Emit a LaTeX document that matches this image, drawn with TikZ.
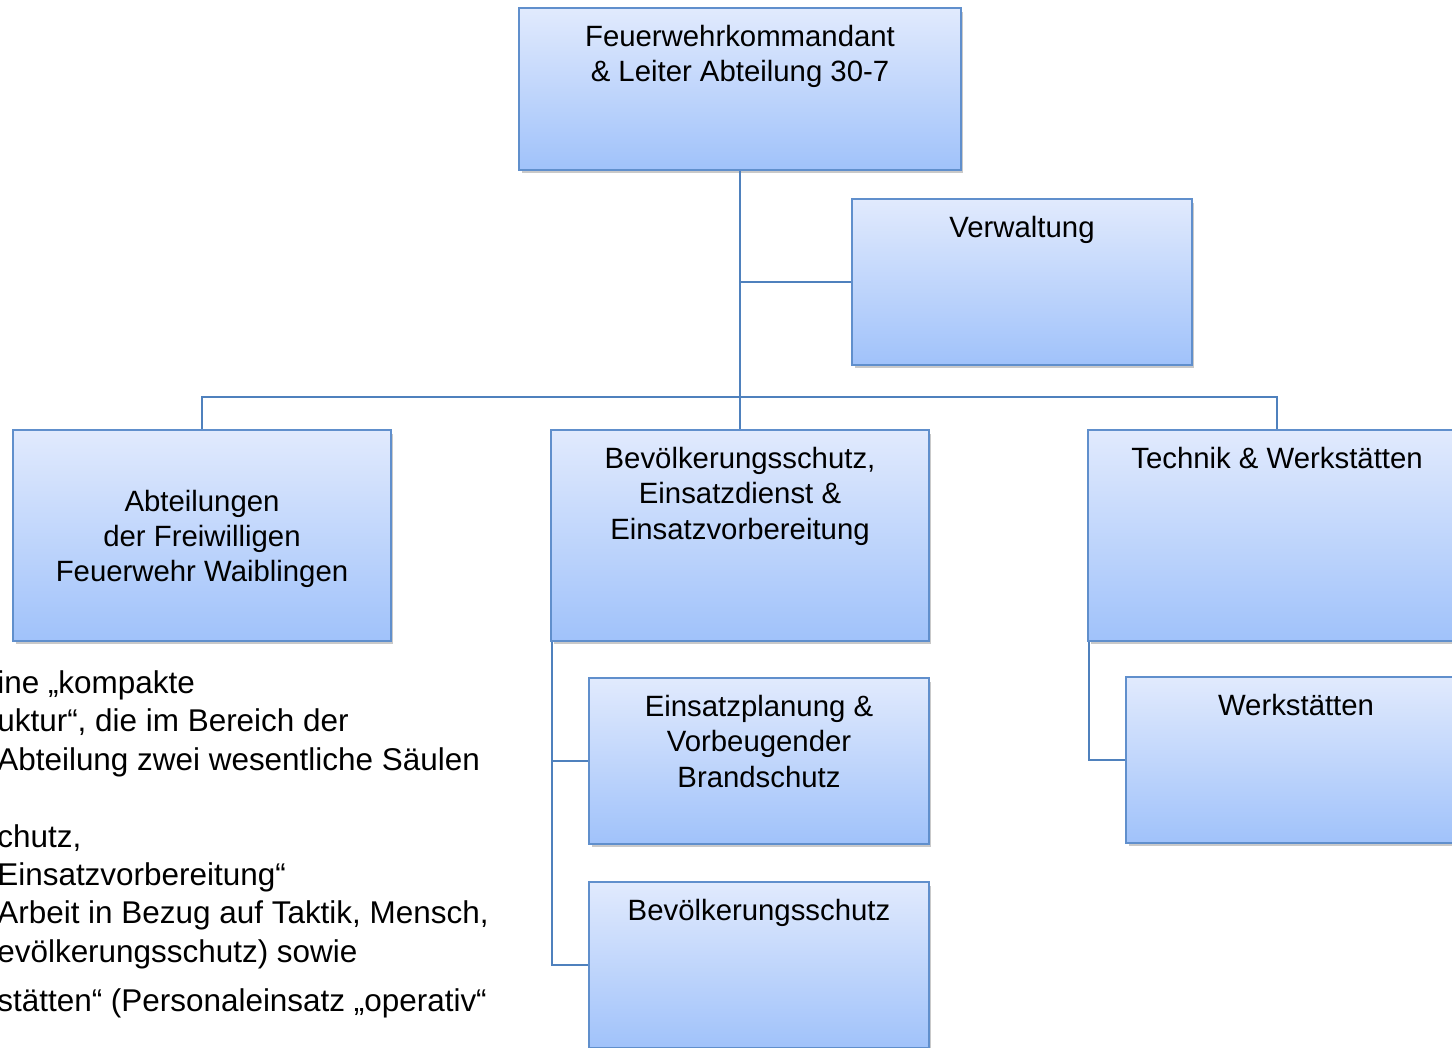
\documentclass[tikz,border=0pt]{standalone}
\usepackage{fontspec}
\setmainfont{Liberation Sans}
\usetikzlibrary{positioning}
\usetikzlibrary{shadows}

\definecolor{boxtop}{RGB}{225,234,253}
\definecolor{boxbottom}{RGB}{160,194,250}
\definecolor{boxline}{RGB}{96,143,204}
\definecolor{conline}{RGB}{79,129,189}

\newcommand{\boxfont}{\fontsize{16.7}{20.1}\selectfont}
\newcommand{\sidefont}{\fontsize{17.9}{21}\selectfont}

\tikzset{
    orgbox/.style={rectangle, draw=boxline, line width=1pt, top color=boxtop, bottom color=boxbottom,
        drop shadow={shadow xshift=0.05cm, shadow yshift=-0.07cm, opacity=0.3, fill=black!70}},
    orgtext/.style={font=\boxfont, align=center},
    orgline/.style={draw=conline, line width=1.1pt},
}

\begin{document}
\begin{tikzpicture}[x=0.02cm, y=-0.02cm]
    \useasboundingbox (0,0) rectangle (1452,1047);
    \clip (0,0) rectangle (1452,1047);

    \coordinate (bus) at (740,397);
    \coordinate (stab) at (740,282);

    \node[orgbox, minimum width=8.84cm, minimum height=3.24cm] (kommandant) at (740,89) {};
    \node[orgbox, minimum width=6.8cm, minimum height=3.32cm] (verwaltung) at (1022,282) {};
    \node[orgbox, minimum width=7.56cm, minimum height=4.22cm] (abteilungen) at (202,535.5) {};
    \node[orgbox, minimum width=7.56cm, minimum height=4.22cm] (bevoelkerung) at (740,535.5) {};
    \node[orgbox, minimum width=7.56cm, minimum height=4.22cm] (technik) at (1277,535.5) {};
    \node[orgbox, minimum width=6.8cm, minimum height=3.32cm] (einsatzplanung) at (759,761) {};
    \node[orgbox, minimum width=6.8cm, minimum height=3.32cm] (schutz) at (759,965) {};
    \node[orgbox, minimum width=6.8cm, minimum height=3.32cm] (werkstaetten) at (1296,760) {};

    % connectors
    \draw[orgline] (kommandant.south) -- (bevoelkerung.north);
    \draw[orgline] (stab) -- (verwaltung.west);
    \draw[orgline] (abteilungen.north) |- (bus) -| (technik.north);
    \draw[orgline] ([xshift=0.04cm]bevoelkerung.south west) |- (einsatzplanung.west);
    \draw[orgline] ([xshift=0.04cm]bevoelkerung.south west) |- (schutz.west);
    \draw[orgline] ([xshift=0.04cm]technik.south west) |- (werkstaetten.west);

    % box texts
    \node[orgtext, below=0.24cm of kommandant.north] (kommandant-t) {Feuerwehrkommandant\\\& Leiter Abteilung 30-7};
    \node[orgtext, below=0.24cm of verwaltung.north] (verwaltung-t) {Verwaltung};
    \node[orgtext] (abteilungen-t) at ([yshift=-0.07cm]abteilungen.center) {Abteilungen\\der Freiwilligen\\Feuerwehr Waiblingen};
    \node[orgtext, below=0.24cm of bevoelkerung.north] (bevoelkerung-t) {Bevölkerungsschutz,\\Einsatzdienst \&\\Einsatzvorbereitung};
    \node[orgtext, below=0.24cm of technik.north] (technik-t) {Technik \& Werkstätten};
    \node[orgtext, below=0.24cm of einsatzplanung.north] (einsatzplanung-t) {Einsatzplanung \&\\Vorbeugender\\Brandschutz};
    \node[orgtext, below=0.24cm of schutz.north] (schutz-t) {Bevölkerungsschutz};
    \node[orgtext, below=0.24cm of werkstaetten.north] (werkstaetten-t) {Werkstätten};

    % text left of the chart
    \foreach \y/\zeile [count=\i] in {693/{ine „kompakte},
            731/{uktur“, die im Bereich der},
            770/{Abteilung zwei wesentliche Säulen},
            847/{chutz,},
            885/{Einsatzvorbereitung“},
            923/{Arbeit in Bezug auf Taktik, Mensch,},
            962/{evölkerungsschutz) sowie},
            1011/{stätten“ (Personaleinsatz „operativ“}}
        \node[anchor=base west, inner sep=0pt, font=\sidefont] (zeile\i) at (-3,\y) {\zeile};
\end{tikzpicture}
\end{document}
